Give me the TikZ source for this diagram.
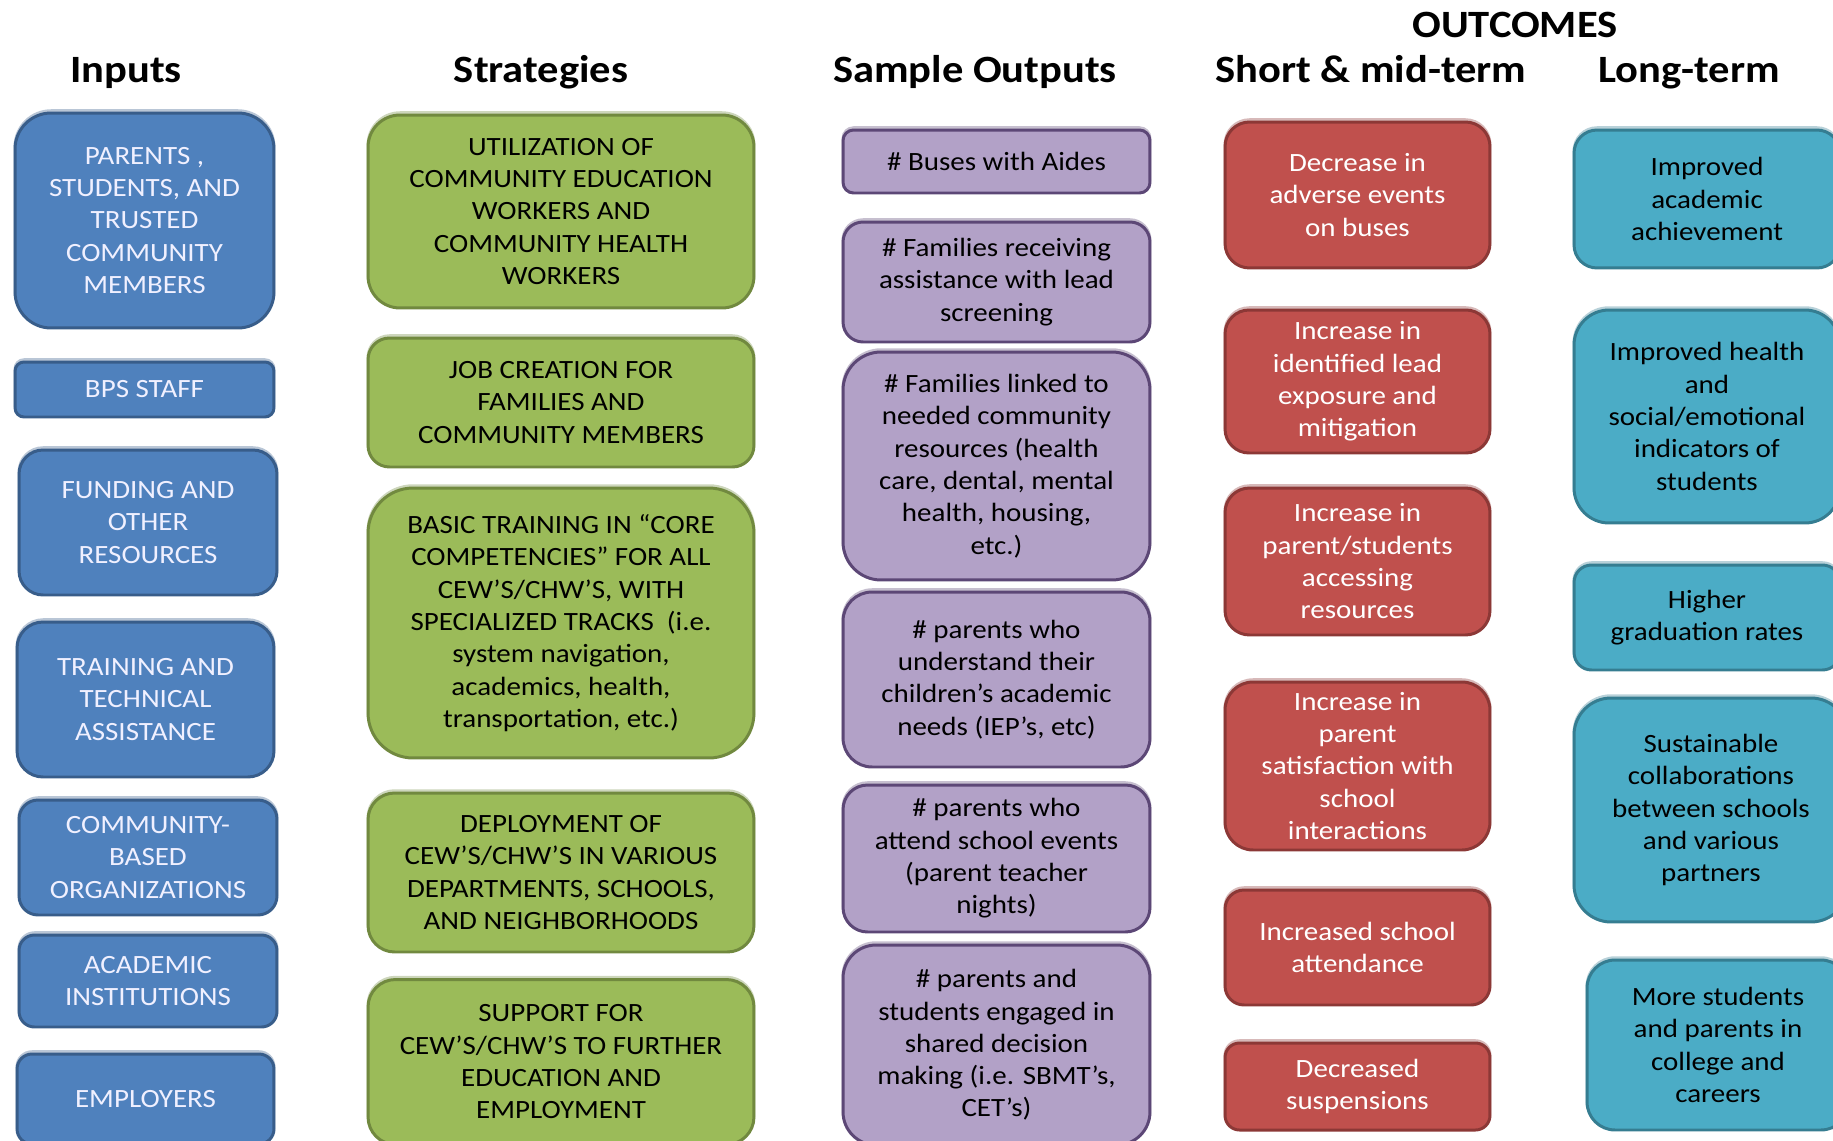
\documentclass[tikz,border=0pt]{standalone}
\usepackage{fontspec}
\setmainfont{Carlito}[FakeStretch=1.1]
\usepackage{tikz}
\usetikzlibrary{positioning}
\definecolor{inblue}{HTML}{4F81BD}
\definecolor{inedge}{HTML}{385D8A}
\definecolor{stgreen}{HTML}{9BBB59}
\definecolor{stedge}{HTML}{71893F}
\definecolor{outlilac}{HTML}{B2A1C7}
\definecolor{outedge}{HTML}{5C4776}
\definecolor{shred}{HTML}{C0504D}
\definecolor{shedge}{HTML}{8C3836}
\definecolor{lgteal}{HTML}{4BACC6}
\definecolor{lgedge}{HTML}{357D91}

\begin{document}
\begin{tikzpicture}[x=0.02cm,y=-0.02cm,
    head/.style={anchor=base, font=\fontsize{22}{26}\selectfont\bfseries},
    box/.style={line width=1.7pt, rounded corners=#1, align=center, inner sep=2pt,
      font=\fontsize{15}{18.4}\selectfont},
    inbox/.style={box=#1, fill=inblue, draw=inedge, text=white!94!blue,
      preaction={draw=inedge!35, transform canvas={yshift=1.3pt}}},
    stbox/.style={box=#1, fill=stgreen, draw=stedge, text=black,
      preaction={draw=stedge!35, transform canvas={yshift=1.3pt}}},
    outbox/.style={box=#1, fill=outlilac, draw=outedge, text=black,
      preaction={draw=outedge!35, transform canvas={yshift=1.3pt}}},
    shbox/.style={box=#1, fill=shred, draw=shedge, text=white,
      preaction={draw=shedge!35, transform canvas={yshift=1.3pt}}},
    lgbox/.style={box=#1, fill=lgteal, draw=lgedge, text=black,
      preaction={draw=lgedge!35, transform canvas={yshift=1.3pt}}}]
  \useasboundingbox (0,0) rectangle (1833,1140);
  \clip (0,0) rectangle (1833,1140);
  % column headings
  \node[head] (hin) at (126,82) {Inputs};
  \node[head] (hst) at (541,82) {Strategies};
  \node[head] (hout) at (975,82) {Sample Outputs};
  \node[head] (hoc) at (1515,37) {OUTCOMES};
  \node[head] (hsh) at (1371,82) {Short \& mid-term};
  \node[head] (hlg) at (1689,82) {Long-term};
  % inputs
  \node[inbox=0.72cm, minimum width=5.18cm, minimum height=4.30cm] (in1) at (144.5,220.5) {PARENTS ,\\STUDENTS, AND\\TRUSTED\\COMMUNITY\\MEMBERS};
  \node[inbox=0.18cm, minimum width=5.18cm, minimum height=1.10cm] (in2) at (144.5,389.5) {BPS STAFF};
  \node[inbox=0.48cm, minimum width=5.16cm, minimum height=2.90cm] (in3) at (148,522.5) {FUNDING AND\\OTHER\\RESOURCES};
  \node[inbox=0.52cm, minimum width=5.14cm, minimum height=3.10cm] (in4) at (145.5,699.5) {TRAINING AND\\TECHNICAL\\ASSISTANCE};
  \node[inbox=0.38cm, minimum width=5.16cm, minimum height=2.30cm] (in5) at (148,857.5) {COMMUNITY-\\BASED\\ORGANIZATIONS};
  \node[inbox=0.31cm, minimum width=5.16cm, minimum height=1.84cm] (in6) at (148,981) {ACADEMIC\\INSTITUTIONS};
  \node[inbox=0.30cm, minimum width=5.14cm, minimum height=1.80cm] (in7) at (145.5,1099) {EMPLOYERS};
  % strategies
  \node[stbox=0.64cm, minimum width=7.72cm, minimum height=3.86cm] (st1) at (561,211.5) {UTILIZATION OF\\COMMUNITY EDUCATION\\WORKERS AND\\COMMUNITY HEALTH\\WORKERS};
  \node[stbox=0.43cm, minimum width=7.72cm, minimum height=2.58cm] (st2) at (561,402.5) {JOB CREATION FOR\\FAMILIES AND\\COMMUNITY MEMBERS};
  \node[stbox=0.90cm, minimum width=7.72cm, minimum height=5.40cm] (st3) at (561,623) {BASIC TRAINING IN “CORE\\COMPETENCIES” FOR ALL\\CEW’S/CHW’S, WITH\\SPECIALIZED TRACKS \ (i.e.\\system navigation,\\academics, health,\\transportation, etc.)};
  \node[stbox=0.53cm, minimum width=7.72cm, minimum height=3.18cm] (st4) at (561,872.5) {DEPLOYMENT OF\\CEW’S/CHW’S IN VARIOUS\\DEPARTMENTS, SCHOOLS,\\AND NEIGHBORHOODS};
  \node[stbox=0.55cm, minimum width=7.72cm, minimum height=3.30cm] (st5) at (561,1062) {SUPPORT FOR\\CEW’S/CHW’S TO FURTHER\\EDUCATION AND\\EMPLOYMENT};
  % sample outputs
  \node[outbox=0.21cm, minimum width=6.14cm, minimum height=1.26cm] (out1) at (996.5,161.5) {\# Buses with Aides};
  \node[outbox=0.40cm, minimum width=6.14cm, minimum height=2.40cm] (out2) at (996.5,282) {\# Families receiving\\assistance with lead\\screening};
  \node[outbox=0.76cm, minimum width=6.14cm, minimum height=4.56cm] (out3) at (996.5,466) {\# Families linked to\\needed community\\resources (health\\care, dental, mental\\health, housing,\\etc.)};
  \node[outbox=0.58cm, minimum width=6.14cm, minimum height=3.50cm] (out4) at (996.5,679.5) {\# parents who\\understand their\\children’s academic\\needs (IEP’s, etc)};
  \node[outbox=0.49cm, minimum width=6.14cm, minimum height=2.94cm] (out5) at (996.5,858.5) {\# parents who\\attend school events\\(parent teacher\\nights)};
  \node[outbox=0.66cm, minimum width=6.14cm, minimum height=4.00cm] (out6) at (996.5,1045) {\# parents and\\students engaged in\\shared decision\\making (i.e. SBMT’s,\\CET’s)};
  % short and mid-term outcomes
  \node[shbox=0.49cm, minimum width=5.30cm, minimum height=2.92cm] (sh1) at (1357.5,195) {Decrease in\\adverse events\\on buses};
  \node[shbox=0.48cm, minimum width=5.30cm, minimum height=2.86cm] (sh2) at (1357.5,381.5) {Increase in\\identified lead\\exposure and\\mitigation};
  \node[shbox=0.49cm, minimum width=5.30cm, minimum height=2.94cm] (sh3) at (1357.5,561.5) {Increase in\\parent/students\\accessing\\resources};
  \node[shbox=0.56cm, minimum width=5.30cm, minimum height=3.36cm] (sh4) at (1357.5,766) {Increase in\\parent\\satisfaction with\\school\\interactions};
  \node[shbox=0.38cm, minimum width=5.30cm, minimum height=2.30cm] (sh5) at (1357.5,947.5) {Increased school\\attendance};
  \node[shbox=0.29cm, minimum width=5.30cm, minimum height=1.74cm] (sh6) at (1357.5,1086.5) {Decreased\\suspensions};
  % long-term outcomes
  \node[lgbox=0.46cm, minimum width=5.32cm, minimum height=2.76cm] (lg1) at (1707,199) {Improved\\academic\\achievement};
  \node[lgbox=0.70cm, minimum width=5.32cm, minimum height=4.26cm] (lg2) at (1707,416.5) {Improved health\\and\\social/emotional\\indicators of\\students};
  \node[lgbox=0.35cm, minimum width=5.32cm, minimum height=2.10cm] (lg3) at (1707,617.5) {Higher\\graduation rates};
  \node[lgbox=0.74cm, minimum width=5.48cm, minimum height=4.48cm] (lg4) at (1711,810) {Sustainable\\collaborations\\between schools\\and various\\partners};
  \node[lgbox=0.56cm, minimum width=5.24cm, minimum height=3.40cm] (lg5) at (1718,1045) {More students\\and parents in\\college and\\careers};
\end{tikzpicture}
\end{document}
